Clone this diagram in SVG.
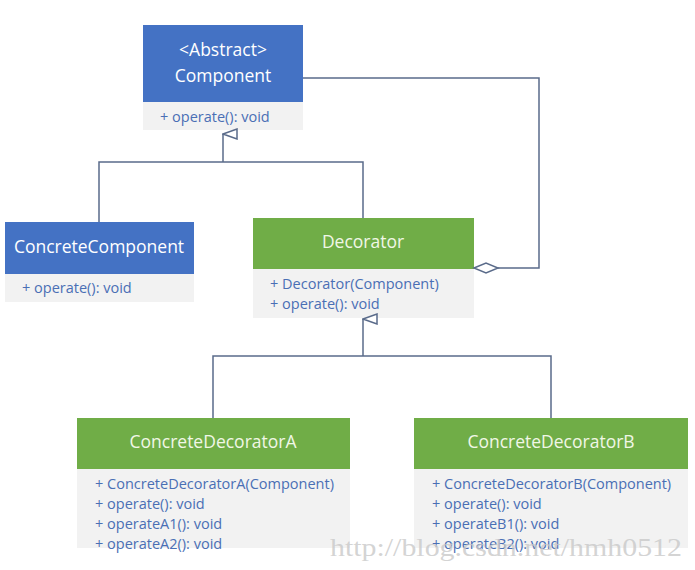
<svg xmlns="http://www.w3.org/2000/svg" width="695" height="570" viewBox="0 0 695 570">
<defs>
<style>
.hb{fill:#4472C4}
.hg{fill:#70AD47}
.body{fill:#F2F2F2}
.ht{font-family:"Open Sans","Noto Sans",sans-serif;font-size:17.5px;fill:#FFFFFF;text-anchor:middle}
.htg{fill:#F0F7E6}
.bt{font-family:"Open Sans","Noto Sans",sans-serif;font-size:14.5px;fill:#4A6FB5}
.ln{fill:none;stroke:#5A6B8A;stroke-width:1.5}
.wm{font-family:"Liberation Serif",serif;font-size:25px;fill:#C8C8C8;fill-opacity:0.8}
</style>
<marker id="tri" markerWidth="12" markerHeight="16" refX="6" refY="1" orient="auto" markerUnits="userSpaceOnUse" viewBox="0 0 12 16">
<path d="M6,1 L11,15 L1,15 Z" fill="#FFFFFF" stroke="#5A6B8A" stroke-width="1.5"/>
</marker>
</defs>
<g id="Component">
<rect class="hb" x="143" y="25" width="160" height="77"/>
<rect class="body" x="143" y="102" width="160" height="28"/>
<text class="ht" x="223" y="56">&lt;Abstract&gt;</text>
<text class="ht" x="223" y="82">Component</text>
<text class="bt" x="160" y="122">+ operate(): void</text>
</g>
<g id="ConcreteComponent">
<rect class="hb" x="5" y="222" width="189" height="52"/>
<rect class="body" x="5" y="274" width="189" height="28"/>
<text class="ht" x="99" y="253">ConcreteComponent</text>
<text class="bt" x="22" y="293">+ operate(): void</text>
</g>
<g id="Decorator">
<rect class="hg" x="253" y="218" width="221" height="51"/>
<rect class="body" x="253" y="269" width="221" height="49"/>
<text class="ht htg" x="363" y="248">Decorator</text>
<text class="bt" x="270" y="289">+ Decorator(Component)</text>
<text class="bt" x="270" y="309">+ operate(): void</text>
</g>
<g id="ConcreteDecoratorA">
<rect class="hg" x="77" y="418" width="273" height="51"/>
<rect class="body" x="77" y="469" width="273" height="79"/>
<text class="ht htg" x="213" y="448">ConcreteDecoratorA</text>
<text class="bt" x="95" y="489">+ ConcreteDecoratorA(Component)</text>
<text class="bt" x="95" y="509">+ operate(): void</text>
<text class="bt" x="95" y="529">+ operateA1(): void</text>
<text class="bt" x="95" y="549">+ operateA2(): void</text>
</g>
<g id="ConcreteDecoratorB">
<rect class="hg" x="414" y="418" width="274" height="51"/>
<rect class="body" x="414" y="469" width="274" height="79"/>
<text class="ht htg" x="551" y="448">ConcreteDecoratorB</text>
<text class="bt" x="432" y="489">+ ConcreteDecoratorB(Component)</text>
<text class="bt" x="432" y="509">+ operate(): void</text>
<text class="bt" x="432" y="529">+ operateB1(): void</text>
<text class="bt" x="432" y="549">+ operateB2(): void</text>
</g>
<g id="connectors">
<path class="ln" d="M99,222 V162 H363 V218"/>
<path class="ln" d="M223,162 V134" marker-end="url(#tri)"/>
<path class="ln" d="M213,418 V356 H551 V418"/>
<path class="ln" d="M363,356 V319" marker-end="url(#tri)"/>
<path class="ln" d="M303,78 H539 V268 H498"/>
<path d="M474,268 L486,263 L498,268 L486,273 Z" fill="#FFFFFF" stroke="#5A6B8A" stroke-width="1.5"/>
</g>
<text class="wm" x="330" y="556" textLength="352" lengthAdjust="spacingAndGlyphs">http://blog.csdn.net/hmh0512</text>
</svg>
